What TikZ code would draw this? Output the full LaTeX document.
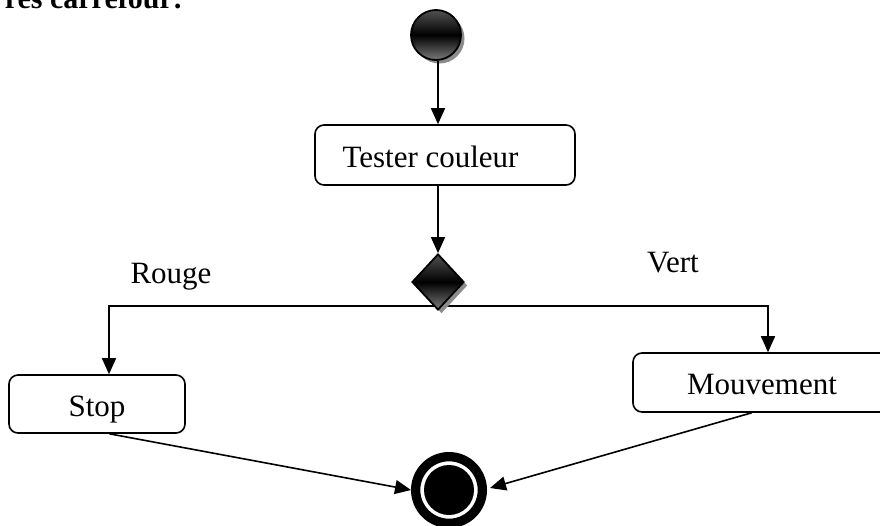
\documentclass[tikz,border=0pt]{standalone}
\usepackage{fontspec}
\setmainfont{Liberation Serif}
\usetikzlibrary{arrows.meta,shapes.geometric,shadows,calc}

\begin{document}
\begin{tikzpicture}[x=1pt,y=-1pt,
  lbl/.style={font=\fontsize{31}{36}\selectfont},
  line/.style={line width=1.6pt},
  flow/.style={line width=1.6pt,-{Triangle[length=16pt,width=14pt]}},
  actbox/.style={draw,line width=1.6pt,rounded corners=9pt,inner sep=0pt,
    text height=24pt,text depth=0pt,font=\fontsize{31}{36}\selectfont},
  dark/.style={draw=black,line width=1.8pt,top color=black!68,bottom color=black!52,
    middle color=black,
    drop shadow={shadow xshift=3.5pt,shadow yshift=-3.5pt,fill=black!45,opacity=1}},
]
\useasboundingbox (0,0) rectangle (880,525);
\clip (0,0) rectangle (880,525);

% heading (cut by the page top)
\node (title) [anchor=base east,font=\bfseries\fontsize{30}{36}\selectfont,inner sep=0pt]
  at (183,8) {res carrefour:};

% initial state
\node (init) [circle,dark,minimum size=50pt,inner sep=0pt] at (436,35) {};

% actions
\node (tester) [actbox,minimum width=260pt,minimum height=60pt] at (445,155)
  {\hspace*{-29pt}Tester couleur};
\node (stop) [actbox,minimum width=176pt,minimum height=58pt] at (97,404) {Stop};
\node (mov) [actbox,minimum width=258pt,minimum height=59pt] at (762,382.5) {Mouvement};

% branch split
\coordinate (j) at (438,306);
\coordinate (jl) at (109,306);
\coordinate (jr) at (768,306);
\draw[flow] (j) -- (jl) -- (jl |- stop.north);
\draw[flow] (j) -- (jr) -- (jr |- mov.north);

% decision
\node (dec) [diamond,dark,minimum width=52pt,minimum height=56pt,inner sep=0pt] at (438,282) {};

% final state
\node (fin) [circle,draw=black,line width=9.3pt,fill=white,minimum size=66.7pt,inner sep=0pt,
  path picture={\fill[black] (path picture bounding box.center) circle (25pt);}] at (449,490) {};

% flows
\draw[flow] (init.south -| j) -- (j |- tester.north);
\draw[flow] (j |- tester.south) -- (dec.north);
\draw[flow] ($(stop.south west)!0.57!(stop.south east)$) -- (fin.west);
\draw[flow] ($(mov.south west)!0.46!(mov.south east)$) -- ($(fin.east)+(3,-2)$);

% guards
\node (rouge) [lbl,anchor=base] at (171,283) {Rouge};
\node (vert) [lbl,anchor=base] at (673,272) {Vert};
\end{tikzpicture}
\end{document}
